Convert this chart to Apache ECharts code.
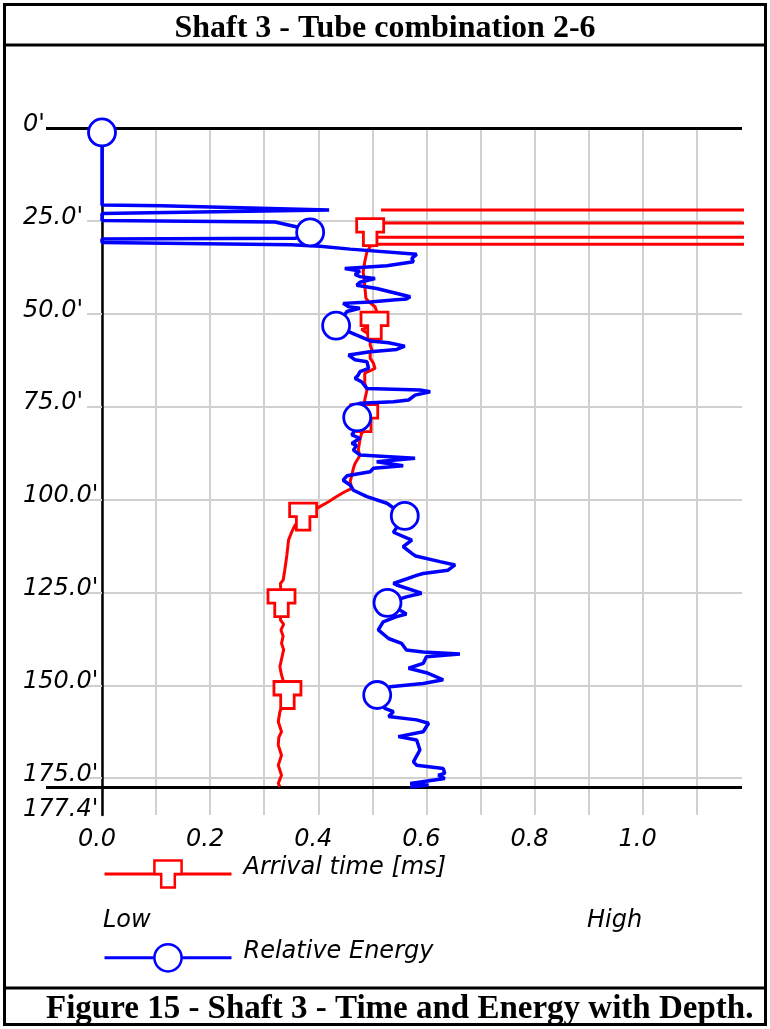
<!DOCTYPE html>
<html>
<head>
<meta charset="utf-8">
<script src="https://cdn.jsdelivr.net/npm/echarts@6/dist/echarts.min.js"></script>
<style>
  html, body { margin: 0; padding: 0; background: #fff; }
  #chart { width: 770px; height: 1029px; }
</style>
</head>
<body>
<div id="chart"></div>
<script>
// Crosshole log, shaft 3, tubes 2-6. Depth runs down the y axis (feet),
// arrival time and relative energy share the x axis.
const TITLE = "Shaft 3 - Tube combination 2-6";
const CAPTION = "Figure 15 - Shaft 3 - Time and Energy with Depth.";

const DEPTH_MAX = 184.9;     // grid runs a little past the bottom of the shaft
const SHAFT_BOTTOM = 177.4;
const X_MAX = 1.1837;
const OFF_SCALE = 5;         // arrival readings that ran off the right edge

// [value, depth ft]
const arrivalTrace = [
  [0.516, 22.1], [OFF_SCALE, 22.1], [OFF_SCALE, 25.6], [0.495, 25.6],
  [0.495, 29.4], [OFF_SCALE, 29.4], [OFF_SCALE, 31.3], [0.492, 31.3],
  [0.496, 32.0], [0.490, 33.3], [0.486, 36.0], [0.483, 38.7], [0.486, 42.3],
  [0.488, 45.8], [0.493, 46.7], [0.505, 48.1], [0.508, 49.3], [0.504, 53.2],
  [0.480, 54.2], [0.496, 55.7], [0.496, 58.4], [0.499, 59.7], [0.496, 60.6],
  [0.496, 62.0], [0.502, 63.3], [0.505, 64.7], [0.486, 66.0], [0.486, 68.7],
  [0.490, 70.5], [0.486, 73.2], [0.485, 78.1], [0.490, 80.8], [0.480, 82.2],
  [0.477, 84.0], [0.474, 86.7], [0.477, 88.0], [0.474, 88.9], [0.468, 90.3],
  [0.465, 91.6], [0.462, 93.4], [0.459, 95.2], [0.462, 97.0], [0.449, 97.9],
  [0.434, 99.2], [0.419, 100.6], [0.403, 101.9], [0.372, 104.6], [0.357, 106.9],
  [0.351, 108.7], [0.345, 110.9], [0.342, 114.9], [0.340, 117.0], [0.338, 119.0],
  [0.335, 121.7], [0.330, 122.6], [0.332, 127.9], [0.330, 132.4], [0.336, 133.6],
  [0.331, 135.1], [0.335, 136.8], [0.332, 138.7], [0.336, 140.4], [0.333, 142.3],
  [0.329, 145.0], [0.332, 147.2], [0.343, 152.6], [0.329, 157.1], [0.326, 159.8],
  [0.332, 162.5], [0.327, 164.0], [0.326, 166.1], [0.332, 168.8], [0.326, 171.5],
  [0.332, 174.2], [0.326, 176.4], [0.329, 177.3]
];

const energyTrace = [
  [0.000, 1.2], [0.000, 20.7], [0.110, 20.9], [0.420, 22.1], [0.000, 23.0],
  [0.000, 24.9], [0.320, 25.3], [0.357, 26.5], [0.385, 28.1], [0.357, 29.7],
  [0.000, 29.9], [0.000, 30.8], [0.350, 31.4], [0.403, 31.8], [0.459, 32.6],
  [0.582, 34.0], [0.573, 35.1], [0.576, 36.0], [0.527, 37.1], [0.449, 37.8],
  [0.477, 38.5], [0.468, 39.4], [0.477, 40.0], [0.505, 40.5], [0.477, 41.5],
  [0.471, 42.3], [0.508, 43.2], [0.570, 45.4], [0.563, 46.0], [0.538, 46.3],
  [0.496, 46.8], [0.446, 47.2], [0.456, 48.1], [0.477, 48.5], [0.453, 49.4],
  [0.445, 51.0], [0.433, 53.2], [0.456, 54.8], [0.496, 57.3], [0.530, 57.8],
  [0.560, 58.7], [0.545, 59.6], [0.496, 60.2], [0.456, 61.1], [0.468, 62.4],
  [0.490, 62.9], [0.493, 64.7], [0.477, 65.6], [0.474, 66.5], [0.468, 67.4],
  [0.480, 68.3], [0.490, 70.1], [0.588, 70.5], [0.607, 71.0], [0.579, 71.9],
  [0.567, 73.2], [0.539, 73.7], [0.477, 74.1], [0.462, 75.0], [0.472, 77.9],
  [0.471, 80.8], [0.462, 82.6], [0.477, 83.5], [0.462, 84.9], [0.471, 85.4],
  [0.465, 86.7], [0.477, 88.0], [0.579, 88.9], [0.508, 89.8], [0.557, 90.9],
  [0.502, 91.6], [0.496, 92.5], [0.453, 93.6], [0.446, 94.8], [0.459, 96.1],
  [0.465, 97.5], [0.490, 99.2], [0.527, 101.0], [0.560, 104.4], [0.539, 108.8],
  [0.573, 110.9], [0.557, 112.7], [0.573, 114.5], [0.580, 115.2], [0.625, 116.7],
  [0.653, 117.6], [0.640, 119.0], [0.594, 119.9], [0.582, 120.4], [0.539, 122.6],
  [0.545, 123.0], [0.591, 125.2], [0.563, 126.2], [0.528, 127.8], [0.563, 130.8],
  [0.545, 131.5], [0.520, 132.9], [0.511, 135.1], [0.530, 137.4], [0.554, 138.7],
  [0.563, 140.5], [0.594, 141.0], [0.662, 141.6], [0.600, 142.3], [0.594, 144.1],
  [0.567, 145.4], [0.600, 146.6], [0.631, 148.5], [0.594, 149.5], [0.533, 150.4],
  [0.509, 152.6], [0.523, 156.2], [0.539, 157.1], [0.530, 158.4], [0.582, 159.3],
  [0.604, 160.2], [0.594, 162.5], [0.548, 163.8], [0.582, 164.7], [0.588, 167.4],
  [0.576, 170.6], [0.582, 171.5], [0.631, 172.4], [0.634, 173.7], [0.622, 174.2],
  [0.634, 175.1], [0.570, 176.4], [0.604, 176.8], [0.570, 177.4]
];

const arrivalMarkers = [
  [0.496, 28.0], [0.504, 53.2], [0.485, 78.1], [0.372, 104.6], [0.332, 127.9], [0.343, 152.6]
];
const energyMarkers = [
  [0.000, 1.2], [0.385, 28.1], [0.433, 53.2], [0.472, 77.9], [0.560, 104.4], [0.528, 127.8], [0.509, 152.6]
];

const depthEdges = [0, SHAFT_BOTTOM];   // heavy black rules at top and bottom of shaft
const scaleWords = ["Low", "High"];

const RED = "#ff0000";
const BLUE = "#0000ff";
const GRIDC = "#d0d0d0";
const FONT = '"DejaVu Sans", sans-serif';
const SERIF = '"Liberation Serif", "Times New Roman", serif';
const T_PATH = "path://M0,0H26V13H19.5V26H6.5V13H0Z";

const italic = { fontFamily: FONT, fontStyle: "italic", fontSize: 24, color: "#000" };

const chart = echarts.init(document.getElementById("chart"), null, { renderer: "canvas" });

const depthAxis = (extra) => Object.assign({
  type: "value",
  inverse: true,
  min: 0,
  max: DEPTH_MAX,
  position: "left",
  axisLine: { show: false, onZero: false },
  axisTick: { show: false },
  axisLabel: { show: false },
  splitLine: { show: false },
}, extra);

chart.setOption({
  animation: false,
  title: [
    { text: TITLE, left: "center", top: 13, padding: 0,
      textStyle: { fontFamily: SERIF, fontWeight: "bold", fontSize: 32, color: "#000" } },
    { text: CAPTION, left: 46, top: 993, padding: 0,
      textStyle: { fontFamily: SERIF, fontWeight: "bold", fontSize: 33, color: "#000" } },
  ],
  grid: { left: 102, right: 28, top: 128, bottom: 214, containLabel: false },
  xAxis: {
    type: "value",
    min: 0,
    max: X_MAX,
    interval: 0.1,
    axisLine: { show: false, onZero: false },
    axisTick: { show: false },
    splitLine: { show: true, showMaxLine: false, lineStyle: { color: GRIDC, width: 2 } },
    axisLabel: {
      margin: 25,
      verticalAlign: "middle",
      showMaxLabel: false,
      formatter: (v) => (Math.round(v * 10) % 2 === 0 && v < 1.15 ? `{x|${v.toFixed(1)}}` : ""),
      rich: { x: { ...italic, padding: [0, 10, 0, 0] } },
    },
  },
  yAxis: [
    depthAxis({
      interval: 25,
      axisLine: { show: true, onZero: false, lineStyle: { color: "#000", width: 2.5 } },
      axisTick: { show: true, length: 15, lineStyle: { color: GRIDC, width: 2 } },
      splitLine: { show: true, showMaxLine: false, lineStyle: { color: GRIDC, width: 2 } },
      axisLabel: {
        margin: 79,
        align: "left",
        verticalAlign: "middle",
        showMaxLabel: false,
        formatter: (v) => `{d|${v === 0 ? "0" : v.toFixed(1)}'}`,
        rich: { d: { ...italic, padding: [0, 0, 7, 0] } },
      },
    }),
    depthAxis({
      axisTick: { show: true, customValues: depthEdges, length: 56, lineStyle: { color: "#000", width: 3 } },
      axisLabel: {
        show: true,
        customValues: [SHAFT_BOTTOM],
        margin: 79,
        align: "left",
        verticalAlign: "middle",
        formatter: (v) => `{d|${v.toFixed(1)}'}`,
        rich: { d: { ...italic, padding: [45, 0, 0, 0] } },
      },
    }),
    depthAxis({
      axisTick: { show: true, inside: true, customValues: depthEdges, length: 640, lineStyle: { color: "#000", width: 3 } },
    }),
  ],
  legend: {
    orient: "vertical",
    left: 103,
    top: 856,
    padding: 0,
    itemGap: 51,
    itemWidth: 127,
    itemHeight: 34,
    selectedMode: false,
    formatter: (name) => `{t|${name}}`,
    textStyle: { rich: { t: { ...italic, padding: [0, 0, 12, 7] } } },
    data: [
      { name: "Arrival time [ms]", itemStyle: { color: "#fff", borderColor: RED, borderWidth: 2.5 },
        lineStyle: { color: RED, width: 3 } },
      { name: "Relative Energy", itemStyle: { color: "#fff", borderColor: BLUE, borderWidth: 2.5 },
        lineStyle: { color: BLUE, width: 3 } },
    ],
  },
  graphic: [
    { type: "rect", shape: { x: 4.5, y: 4.5, width: 761, height: 1020 },
      style: { fill: null, stroke: "#000", lineWidth: 3 }, silent: true },
    { type: "line", shape: { x1: 4, y1: 45, x2: 766, y2: 45 }, style: { stroke: "#000", lineWidth: 3 } },
    { type: "line", shape: { x1: 4, y1: 988, x2: 766, y2: 988 }, style: { stroke: "#000", lineWidth: 3 } },
    { type: "text", x: 103, y: 921, style: { text: scaleWords[0], font: `italic 24px ${FONT}`, fill: "#000", textVerticalAlign: "middle" } },
    { type: "text", x: 587, y: 921, style: { text: scaleWords[1], font: `italic 24px ${FONT}`, fill: "#000", textVerticalAlign: "middle" } },
  ],
  series: [
    {
      name: "Arrival time [ms]",
      type: "line",
      data: arrivalTrace,
      showSymbol: false,
      symbol: T_PATH,
      symbolSize: [27, 27],
      itemStyle: { color: "#fff", borderColor: RED, borderWidth: 2.5 },
      lineStyle: { color: RED, width: 3 },
      clip: true,
      z: 2,
    },
    {
      name: "arrival-marks",
      type: "scatter",
      data: arrivalMarkers,
      symbol: T_PATH,
      symbolSize: [27, 27],
      itemStyle: { color: "#fff", borderColor: RED, borderWidth: 2.8, opacity: 1 },
      z: 3,
    },
    {
      name: "Relative Energy",
      type: "line",
      data: energyTrace,
      showSymbol: false,
      symbol: "circle",
      symbolSize: 27,
      itemStyle: { color: "#fff", borderColor: BLUE, borderWidth: 2.5 },
      lineStyle: { color: BLUE, width: 3.5 },
      clip: true,
      z: 4,
    },
    {
      name: "energy-marks",
      type: "scatter",
      data: energyMarkers,
      symbol: "circle",
      symbolSize: 27,
      itemStyle: { color: "#fff", borderColor: BLUE, borderWidth: 2.8, opacity: 1 },
      z: 5,
    },
  ],
});
</script>
</body>
</html>
